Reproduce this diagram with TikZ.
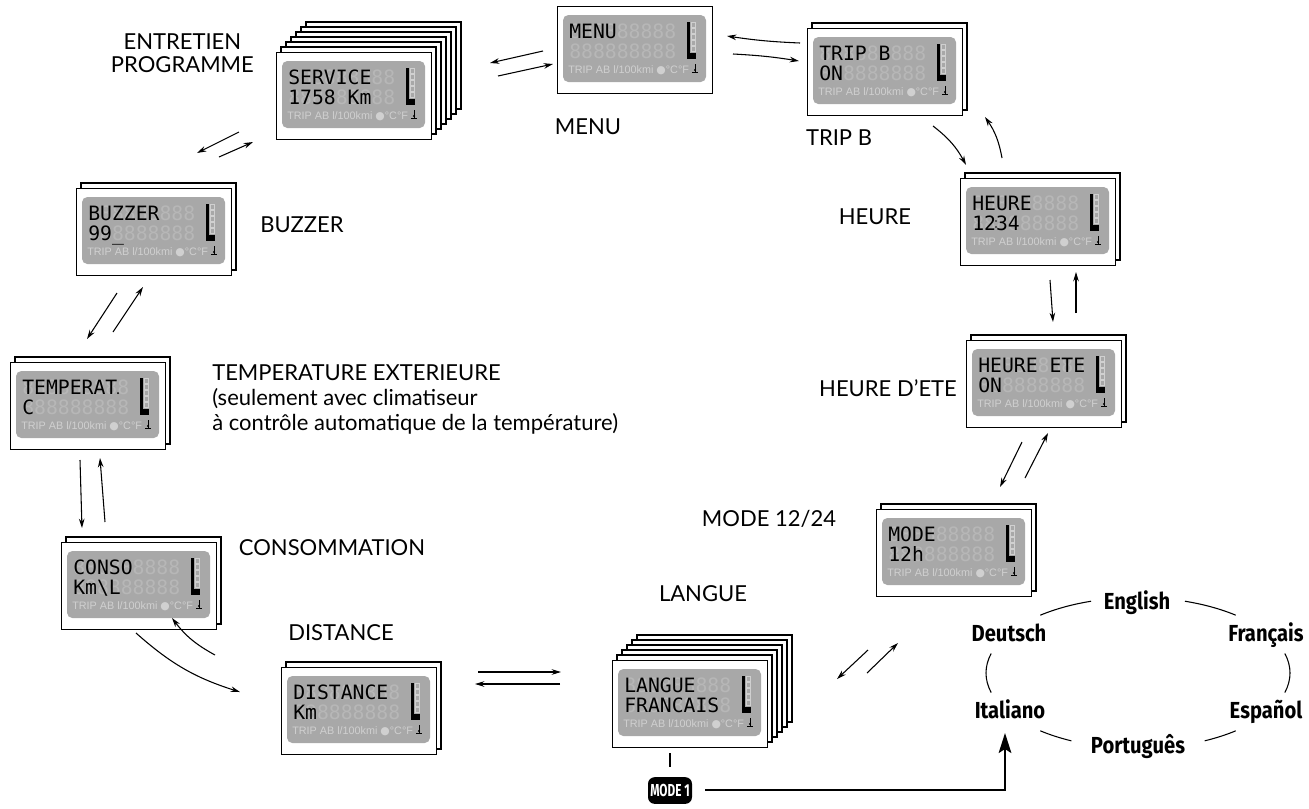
\documentclass[tikz,border=0pt]{standalone}
\usepackage{fontspec}
\usepackage{graphicx}
\usetikzlibrary{arrows.meta,calc}
\setmainfont{Lato}
\newfontfamily\lcdfont{DejaVu Sans Mono}
\newfontfamily\legfont{Liberation Sans}
\newfontfamily\symfont{DejaVu Sans}
\newfontfamily\langfont{Fira Sans}
\definecolor{panel}{HTML}{A8A8A8}
\definecolor{dimseg}{HTML}{B7B7B7}
\definecolor{legc}{HTML}{D0D0D0}

\tikzset{
 boxline/.style={draw=black, line width=1pt},
 frontbox/.style={draw=black, line width=1pt, fill=white, minimum width=116.25pt, minimum height=65.25pt, inner sep=0pt},
 lcd/.style={anchor=base west, inner sep=0pt, font=\lcdfont\fontsize{14.8}{16}\selectfont},
 leg/.style={anchor=base west, inner sep=0pt, text=legc, font=\legfont\fontsize{8.1}{9}\selectfont},
 ladder/.style={draw=legc, line width=0.4pt},
 lbl/.style={inner sep=0pt, font=\fontsize{16.5}{19}\selectfont},
 lang/.style={inner sep=0pt, anchor=base, font=\langfont\bfseries\fontsize{17.4}{20}\selectfont},
 arr/.style={line width=0.8pt, -{Stealth[length=7pt,width=4.2pt]}},
 bigarr/.style={line width=1.5pt, -{Stealth[length=15pt,width=9.5pt,inset=3pt]}},
 vline/.style={line width=1.5pt},
 ringline/.style={line width=0.8pt},
 modebox/.style={fill=black, text=white, rounded corners=5pt, minimum width=33pt, minimum height=20pt, inner sep=0pt, font=\langfont\bfseries\fontsize{13}{14}\selectfont},
}

\newcommand\lcdbox[7]{%
\begin{scope}[shift={(#2,#3)}]
 \ifnum#4>0
 \foreach \i in {#4,...,1}{\draw[boxline, fill=white] (5*\i,-5*\i) rectangle ++(155,87);}
 \fi
 \node[frontbox, anchor=north west] (#1) at (0,0) {};
 \fill[panel, rounded corners=4pt] (6,9) rectangle (149,76);
 \node[lcd, text=dimseg] at (12,32) {888888888};
 \node[lcd] at (12,32) {#5};
 \node[lcd, text=dimseg] at (12,52) {888888888};
 \node[lcd] at (12,52) {#6};
 \node[leg] at (11,67) {TRIP AB l/100kmi {\symfont ●}°C°F};
 \fill (130,16) rectangle (133,53);
 \foreach \j in {0,...,4}{\draw[ladder] (134,16+6*\j) rectangle (138.5,21+6*\j);}
 \fill (130,47) rectangle (139,53);
 \draw[line width=0.5pt] (138,58) -- (138,66) (135,66) -- (141,66);
 \fill (138,64) circle (1.2);
 #7
\end{scope}}

\begin{document}
\begin{tikzpicture}[x=0.75pt,y=-0.75pt]
\useasboundingbox (0,0) rectangle (1309,808);
\fill[white] (0,0) rectangle (1309,808);

% displays
\lcdbox{menu}{557}{6}{0}{MENU}{}{}
\lcdbox{trip}{807}{28}{1}{TRIP B}{ON}{}
\lcdbox{heure}{960}{178}{1}{HEURE}{1234}{\fill (36,43) circle (0.9); \fill (36,49) circle (0.9);}
\lcdbox{ete}{966}{340}{1}{HEURE ETE}{ON}{}
\lcdbox{mode}{876}{509}{1}{MODE}{12h}{}
\lcdbox{langue}{612}{660}{5}{LANGUE}{FRANCAIS}{}
\lcdbox{dist}{281}{667}{1}{DISTANCE}{Km}{}
\lcdbox{conso}{61}{542}{1}{CONSO}{Km\textbackslash L}{}
\lcdbox{temp}{10}{362}{1}{TEMPERAT}{C}{\fill (108,31) circle (1);}
\lcdbox{buzz}{76}{188}{1}{BUZZER}{99\_}{}
\lcdbox{serv}{276}{52}{6}{SERVICE}{1758 Km}{}

% labels
\node[lbl, align=center, anchor=north east, font=\fontsize{16.5}{17.25}\selectfont] (entl) at (254,33) {ENTRETIEN\\PROGRAMME};
\node[lbl] (menul) at (588,127) {MENU};
\node[lbl] (tripl) at (839,138) {TRIP B};
\node[lbl] (heurel) at (875,217) {HEURE};
\node[lbl] (buzzl) at (302,225) {BUZZER};
\node[lbl, align=left, anchor=north west] (templ) at (212,364) {TEMPERATURE EXTERIEURE\\(seulement avec climatiseur\\à contrôle automatique de la température)};
\node[lbl] (etel) at (888,388) {HEURE D’ETE};
\node[lbl] (model) at (769,519) {MODE 12/24};
\node[lbl] (consol) at (332,548) {CONSOMMATION};
\node[lbl] (languel) at (703,594) {LANGUE};
\node[lbl] (distl) at (341,633) {DISTANCE};

% arrows
\coordinate (a1s) at (800,43);  \coordinate (a1e) at (727,36);
\coordinate (a2s) at (733,54);  \coordinate (a2e) at (799,61);
\coordinate (a3s) at (543,51);  \coordinate (a3e) at (490,63);
\coordinate (a4s) at (498,76);  \coordinate (a4e) at (553,64);
\coordinate (a5s) at (933,126); \coordinate (a5e) at (966,165);
\coordinate (a6s) at (1002,158); \coordinate (a6e) at (985,117);
\coordinate (a7s) at (1050,280); \coordinate (a7e) at (1053,322);
\coordinate (a8s) at (1076,313); \coordinate (a8e) at (1076,272);
\coordinate (a9s) at (1022,442); \coordinate (a9e) at (1000,487);
\coordinate (a10s) at (1025,478); \coordinate (a10e) at (1048,433);
\coordinate (a11s) at (868,650); \coordinate (a11e) at (837,679);
\coordinate (a12s) at (867,673); \coordinate (a12e) at (898,643);
\coordinate (a13s) at (478,672); \coordinate (a13e) at (561,672);
\coordinate (a14s) at (560,684); \coordinate (a14e) at (475,684);
\coordinate (a15s) at (136,633); \coordinate (a15e) at (240,692);
\coordinate (a16s) at (215,655); \coordinate (a16e) at (172,618);
\coordinate (a17s) at (80,460);  \coordinate (a17e) at (82,528);
\coordinate (a18s) at (105,522); \coordinate (a18e) at (100,458);
\coordinate (a19s) at (117,293); \coordinate (a19e) at (87,339);
\coordinate (a20s) at (113,332); \coordinate (a20e) at (143,287);
\coordinate (a21s) at (239,132); \coordinate (a21e) at (197,153);
\coordinate (a22s) at (219,157); \coordinate (a22e) at (253,142);

\draw[arr] (a1s) to[bend left=3] (a1e);
\draw[arr] (a2s) to[bend left=3] (a2e);
\draw[arr] (a3s) -- (a3e);
\draw[arr] (a4s) -- (a4e);
\draw[arr] (a5s) to[bend left=12] (a5e);
\draw[arr] (a6s) to[bend right=12] (a6e);
\draw[arr] (a7s) -- (a7e);
\draw[arr] (a8s) -- (a8e);
\draw[arr] (a9s) -- (a9e);
\draw[arr] (a10s) -- (a10e);
\draw[arr] (a11s) -- (a11e);
\draw[arr] (a12s) -- (a12e);
\draw[arr] (a13s) -- (a13e);
\draw[arr] (a14s) -- (a14e);
\draw[arr] (a15s) to[bend right=12] (a15e);
\draw[arr] (a16s) to[bend left=12] (a16e);
\draw[arr] (a17s) -- (a17e);
\draw[arr] (a18s) -- (a18e);
\draw[arr] (a19s) -- (a19e);
\draw[arr] (a20s) -- (a20e);
\draw[arr] (a21s) -- (a21e);
\draw[arr] (a22s) -- (a22e);

% languages ring
\node[lang] (eng) at (1137,609) {\scalebox{0.87}[1]{English}};
\node[lang] (deu) at (1009,641) {\scalebox{0.87}[1]{Deutsch}};
\node[lang] (fra) at (1266,641) {\scalebox{0.87}[1]{Français}};
\node[lang] (ita) at (1010,718) {\scalebox{0.87}[1]{Italiano}};
\node[lang] (esp) at (1266,718) {\scalebox{0.87}[1]{Español}};
\node[lang] (por) at (1138,753) {\scalebox{0.87}[1]{Português}};
\coordinate (ring) at (1138,673);
\draw[ringline] ([shift={(130:114pt and 56.6pt)}]ring) arc[start angle=130,end angle=108,x radius=114pt,y radius=56.6pt];
\draw[ringline] ([shift={(72:114pt and 56.6pt)}]ring) arc[start angle=72,end angle=50,x radius=114pt,y radius=56.6pt];
\draw[ringline] ([shift={(165:114pt and 56.6pt)}]ring) arc[start angle=165,end angle=195,x radius=114pt,y radius=56.6pt];
\draw[ringline] ([shift={(15:114pt and 56.6pt)}]ring) arc[start angle=15,end angle=-15,x radius=114pt,y radius=56.6pt];
\draw[ringline] ([shift={(230:114pt and 56.6pt)}]ring) arc[start angle=230,end angle=244,x radius=114pt,y radius=56.6pt];
\draw[ringline] ([shift={(296:114pt and 56.6pt)}]ring) arc[start angle=296,end angle=310,x radius=114pt,y radius=56.6pt];

% MODE 1
\node[modebox] (m1) at (670,790.5) {\scalebox{0.68}[1]{MODE 1}};
\draw[vline] ($(langue.south -| m1.north)+(0,5)$) -- ($(m1.north)+(0,-10)$);
\coordinate (itain) at (1005,733);
\draw[bigarr] ($(m1.east)+(13,-1)$) -| (itain);
\end{tikzpicture}
\end{document}
